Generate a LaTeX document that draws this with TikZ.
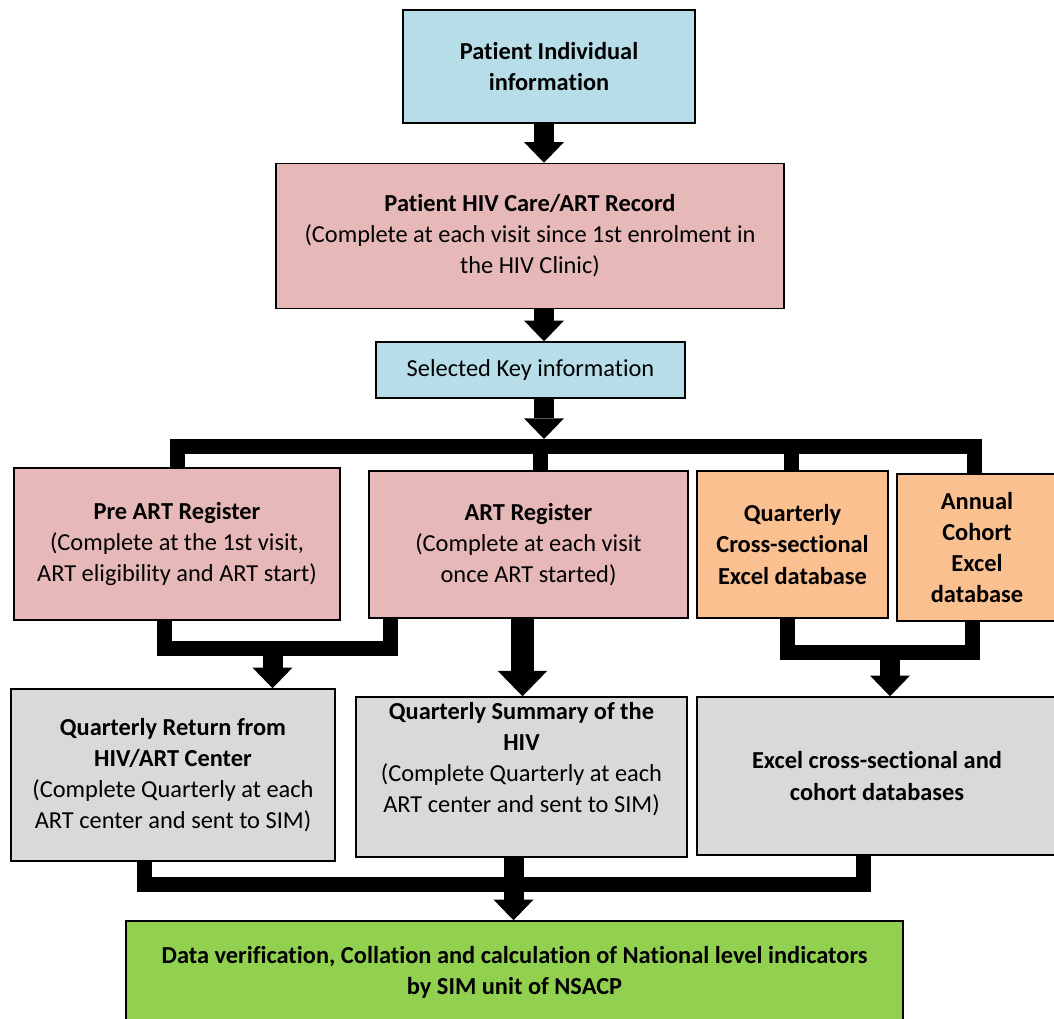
\documentclass[tikz,border=0pt]{standalone}
\usepackage{fontspec}
\setmainfont{Carlito}[Ligatures=NoCommon]
\usetikzlibrary{arrows.meta,calc}
\definecolor{cblue}{HTML}{B7DEE8}
\definecolor{cpink}{HTML}{E6B9B8}
\definecolor{corange}{HTML}{FAC090}
\definecolor{cgray}{HTML}{D9D9D9}
\definecolor{cgreen}{HTML}{92D050}
\begin{document}
\begin{tikzpicture}[x=0.75pt,y=-0.75pt,
  box/.style={draw=black, line width=1.1pt, align=center, inner sep=0pt,
    font=\fontsize{18.3}{23.3}\selectfont},
  sz/.style 2 args={minimum width=#1*0.75pt, minimum height=#2*0.75pt},
  bar/.style={draw=black, line width=11.25pt, line cap=butt, line join=miter},
  arrA/.style={draw=black, line width=15pt, line cap=butt,
    -{Triangle[width=30pt,length=15.5pt,line width=0pt]}},
  arrB/.style={draw=black, line width=17.25pt, line cap=butt,
    -{Triangle[width=37pt,length=19pt,line width=0pt]}}]
\useasboundingbox (0,0) rectangle (1054,1019);
\fill[white] (0,0) rectangle (1054,1019);

% boxes
\node[box, fill=cblue, sz={292}{113}] (b1) at (549,66.5)
  {\textbf{Patient Individual}\\\textbf{information}};
\node[box, fill=cpink, sz={508}{145}] (b2) at (530,236)
  {\textbf{Patient HIV Care/ART Record}\\(Complete at each visit since 1st enrolment in\\the HIV Clinic)};
\node[box, fill=cblue, sz={309}{56}] (b3) at (530.5,370) {Selected Key information};
\node[box, fill=cpink, sz={326}{152}] (pre) at (177,544)
  {\textbf{Pre ART Register}\\(Complete at the 1st visit,\\ART eligibility and ART start)};
\node[box, fill=cpink, sz={319}{147}] (art) at (528.5,544.5)
  {\textbf{ART Register}\\(Complete at each visit\\once ART started)};
\node[box, fill=corange, sz={191}{147}] (qx) at (792.5,544.5)
  {\textbf{Quarterly}\\\textbf{Cross-sectional}\\\textbf{Excel database}};
\node[box, fill=corange, sz={160}{147}] (ann) at (977,547.5)
  {\textbf{Annual}\\\textbf{Cohort}\\\textbf{Excel}\\\textbf{database}};
\node[box, fill=cgray, sz={324}{172}] (qr) at (173,775)
  {\textbf{Quarterly Return from}\\\textbf{HIV/ART Center}\\(Complete Quarterly at each\\ART center and sent to SIM)};
\node[box, fill=cgray, sz={331}{160}] (qs) at (521.5,777)
  {\textbf{Quarterly Summary of the}\\\textbf{HIV}\\(Complete Quarterly at each\\ART center and sent to SIM)\\[6pt]};
\node[box, fill=cgray, sz={360}{158}] (ex) at (877,776)
  {\textbf{Excel cross-sectional and}\\\textbf{cohort databases}};
\node[box, fill=cgreen, sz={777}{102}] (gr) at (514.5,972)
  {\textbf{Data verification, Collation and calculation of National level indicators}\\\textbf{by SIM unit of NSACP}};

% column / row coordinates
\coordinate (cA) at (544,0);
\coordinate (bus) at (0,446.5);
\coordinate (busT) at (0,439);
\coordinate (s1) at (177.5,0);
\coordinate (s2) at (540.5,0);
\coordinate (s3) at (791.5,0);
\coordinate (s4) at (974,0);
\coordinate (m1) at (164.5,0);
\coordinate (m2) at (390,0);
\coordinate (m3) at (272.5,0);
\coordinate (lb) at (0,648.5);
\coordinate (m4) at (522.5,0);
\coordinate (r1) at (787,0);
\coordinate (r2) at (972,0);
\coordinate (r3) at (890,0);
\coordinate (rb) at (0,652.5);
\coordinate (d1) at (144.5,0);
\coordinate (d2) at (863,0);
\coordinate (d3) at (513.5,0);
\coordinate (db) at (0,884.5);

% top arrows
\draw[arrA] (b1.south -| cA) -- (b2.north -| cA);
\draw[arrA] (b2.south -| cA) -- (b3.north -| cA);
\draw[arrA] (b3.south -| cA) -- (cA |- busT);

% distribution bus
\draw[bar] (pre.north -| s1) -- (s1 |- bus) -- (s4 |- bus) -- (ann.north -| s4);
\draw[bar] (art.north -| s2) -- (s2 |- bus);
\draw[bar] (qx.north -| s3) -- (s3 |- bus);

% Pre ART + ART -> Quarterly Return
\draw[bar] (pre.south -| m1) -- (m1 |- lb) -- (m2 |- lb) -- (art.south -| m2);
\draw[arrA] (m3 |- lb) -- (m3 |- qr.north);

% ART -> Quarterly Summary
\draw[arrB] (art.south -| m4) -- (m4 |- qs.north);

% Quarterly + Annual -> Excel
\draw[bar] (qx.south -| r1) -- (r1 |- rb) -- (r2 |- rb) -- (ann.south -| r2);
\draw[arrA] (r3 |- rb) -- (r3 |- ex.north);

% bottom merge -> green
\draw[bar] (qr.south -| d1) -- (d1 |- db) -- (d2 |- db) -- (ex.south -| d2);
\draw[arrA] (qs.south -| d3) -- (d3 |- gr.north);
\end{tikzpicture}
\end{document}
